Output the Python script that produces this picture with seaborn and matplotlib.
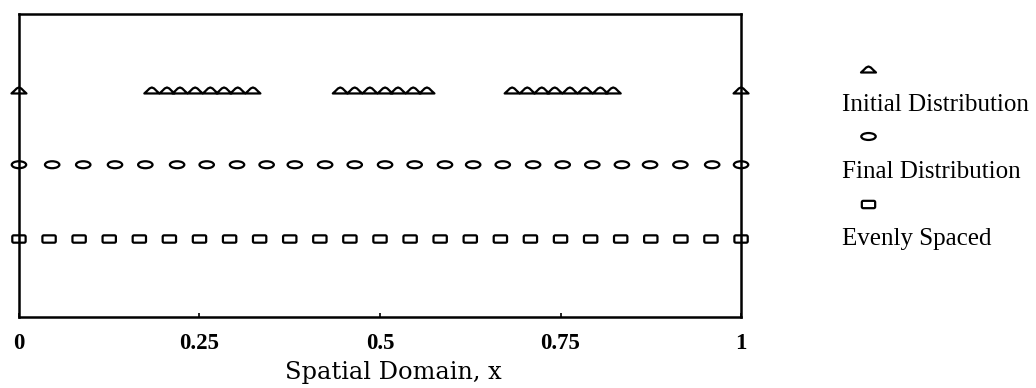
import numpy as np
import pandas as pd
import matplotlib
matplotlib.use("Agg")
import matplotlib.pyplot as plt
from matplotlib.path import Path
from matplotlib.transforms import Affine2D
from matplotlib.lines import Line2D
from matplotlib.legend_handler import HandlerBase
import seaborn as sns

# Particle positions along the unit spatial domain
x_initial = [0.0,
             0.184, 0.205, 0.223, 0.244, 0.265, 0.284, 0.303, 0.324,
             0.445, 0.465, 0.486, 0.507, 0.525, 0.546, 0.565,
             0.683, 0.704, 0.724, 0.742, 0.763, 0.784, 0.805, 0.823,
             1.0]
x_final = [0.0, 0.046, 0.089, 0.133, 0.175, 0.219, 0.260, 0.302, 0.343,
           0.382, 0.424, 0.465, 0.507, 0.548, 0.590, 0.629, 0.670, 0.712,
           0.753, 0.794, 0.835, 0.874, 0.916, 0.960, 1.0]
x_even = [0.0, 0.0417, 0.0833, 0.125, 0.1667, 0.2083, 0.25, 0.2917, 0.3333,
          0.375, 0.4167, 0.4583, 0.5, 0.5417, 0.5833, 0.625, 0.6667, 0.7083,
          0.75, 0.7917, 0.8333, 0.875, 0.9167, 0.9583, 1.0]

# Row (level) of each series
level_initial = 3
level_final = 2
level_even = 1

series_names = ["Initial Distribution", "Final Distribution", "Evenly Spaced"]
x_ticks = [0, 0.25, 0.5, 0.75, 1]
x_tick_labels = ["0", "0.25", "0.5", "0.75", "1"]
x_label = "Spatial Domain, x"

# Marker outlines
hump = Path([(-1.0, -0.4), (-0.62, -0.05), (-0.3, 0.27), (0.0, 0.4),
             (0.3, 0.27), (0.62, -0.05), (1.0, -0.4), (-1.0, -0.4)],
            [Path.MOVETO] + [Path.LINETO] * 6 + [Path.CLOSEPOLY])
oval = Affine2D().scale(1.0, 0.48).transform_path(Path.unit_circle())
_r = 0.2
_h = 0.55
_pts = []
for cx, cy, a0 in [(1 - _r, _h - _r, 0), (-1 + _r, _h - _r, 90),
                   (-1 + _r, -_h + _r, 180), (1 - _r, -_h + _r, 270)]:
    for a in np.linspace(a0, a0 + 90, 5):
        t = np.deg2rad(a)
        _pts.append((cx + _r * np.cos(t), cy + _r * np.sin(t)))
_pts.append(_pts[0])
rrect = Path(_pts, [Path.MOVETO] + [Path.LINETO] * (len(_pts) - 2) + [Path.CLOSEPOLY])

markers = [hump, oval, rrect]
marker_sizes = [10.8, 10.4, 9.6]   # points
edge_w = 1.6

df = pd.concat([
    pd.DataFrame({"x": x_initial, "y": level_initial, "series": series_names[0]}),
    pd.DataFrame({"x": x_final, "y": level_final, "series": series_names[1]}),
    pd.DataFrame({"x": x_even, "y": level_even, "series": series_names[2]}),
])

sns.set_style("white")
plt.rcParams["font.family"] = ["Liberation Serif", "DejaVu Serif"]
plt.rcParams["text.color"] = "black"
plt.rcParams["axes.labelcolor"] = "black"
plt.rcParams["xtick.color"] = "black"

fig = plt.figure(figsize=(10.36, 3.88), dpi=100)
ax = fig.add_axes([0.0183, 0.183, 0.697, 0.781])

for name, mk, ms in zip(series_names, markers, marker_sizes):
    sub = df[df["series"] == name]
    sns.scatterplot(data=sub, x="x", y="y", marker=mk, s=ms ** 2,
                    facecolor="none", edgecolor="black", linewidth=edge_w,
                    legend=False, ax=ax, clip_on=False, zorder=3)

ax.set_xlim(0, 1)
ax.set_ylim(-0.05, 4.03)
ax.set_yticks([])
ax.set_xticks(x_ticks)
ax.set_xticklabels(x_tick_labels, fontsize=16.5, fontweight="bold",
                   family="Liberation Serif")
ax.tick_params(axis="x", direction="in", length=3, width=1.2, pad=11.5,
               colors="black", bottom=True)
for sp in ax.spines.values():
    sp.set_visible(True)
    sp.set_linewidth(1.8)
    sp.set_color("black")
ax.set_ylabel("")
ax.set_xlabel(x_label, fontsize=17.4, family="DejaVu Serif", color="black")
ax.xaxis.label.set_va("center")
ax.xaxis.set_label_coords(0.518, -0.183)


class MarkerAbove(HandlerBase):
    """Legend handler that draws the marker above and to the right of the label start."""

    def __init__(self, marker, size, dx, dy):
        super().__init__()
        self.marker = marker
        self.size = size
        self.dx = dx
        self.dy = dy

    def create_artists(self, legend, orig_handle, xdescent, ydescent,
                       width, height, fontsize, trans):
        x = -xdescent + width / 2 + self.dx
        y = -ydescent + height / 2 + self.dy
        ln = Line2D([x], [y], marker=self.marker, markersize=self.size,
                    markerfacecolor="none", markeredgecolor="black",
                    markeredgewidth=edge_w, linestyle="none", transform=trans)
        return [ln]


handles = [Line2D([], [], label=n) for n in series_names]
hmap = {h: MarkerAbove(m, s, 18.7, 23.8)
        for h, m, s in zip(handles, markers, marker_sizes)}
leg = fig.legend(handles=handles, labels=series_names, handler_map=hmap,
                 loc="center left", bbox_to_anchor=(0.8127, 0.557),
                 frameon=False, handlelength=0.01, handletextpad=0,
                 borderpad=0, borderaxespad=0, labelspacing=1.79,
                 prop={"family": "Liberation Serif", "size": 18})
for t in leg.get_texts():
    t.set_color("black")

fig.savefig("out.png", dpi=100, facecolor="white")
